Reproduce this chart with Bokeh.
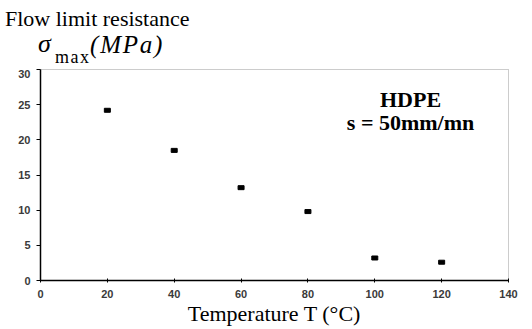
from bokeh.plotting import figure
from bokeh.layouts import column
from bokeh.models import Label, Range1d, FixedTicker, Div
from bokeh.embed import file_html
from bokeh.resources import INLINE

temperature = [20, 40, 60, 80, 100, 120]
sigma_max = [24.2, 18.5, 13.2, 9.8, 3.2, 2.6]
x_ticks = [0, 20, 40, 60, 80, 100, 120, 140]
y_ticks = [0, 5, 10, 15, 20, 25, 30]
title_text = "Flow limit resistance"
quantity_symbol = "σ"
quantity_sub = "max"
quantity_unit = "(MPa)"

# --- header (y-quantity title) as real HTML text ---
span = ("position:absolute; white-space:nowrap; line-height:1; "
        "font-family:'Liberation Serif'; color:#000000;")
header_html = (
    '<div style="position:relative; width:532px; height:69px; margin:0; padding:0;">'
    f'<span style="{span} left:5px; top:7.6px; font-size:22px;">{title_text}</span>'
    f'<span style="{span} left:38px; top:31.2px; font-size:26px; font-style:italic;">{quantity_symbol}</span>'
    f'<span style="{span} left:55px; top:48px; font-size:18px; letter-spacing:1.5px;">{quantity_sub}</span>'
    f'<span style="{span} left:90px; top:32.1px; font-size:25px; font-style:italic; letter-spacing:1.8px;">{quantity_unit}</span>'
    '</div>'
)
h = Div(text=header_html, width=532, height=69, margin=0)

# --- main chart ---
p = figure(width=532, height=260, output_backend="svg", toolbar_location=None,
           x_range=Range1d(0, 140), y_range=Range1d(0, 30),
           min_border_left=40, min_border_right=24, min_border_top=0, min_border_bottom=49)
p.background_fill_color = "white"
p.border_fill_color = "white"
p.grid.visible = False
p.outline_line_color = "#999999"
p.outline_line_dash = "1 1"
p.outline_line_width = 1

p.rect(x=temperature, y=sigma_max, width=6, height=4, width_units="screen",
       height_units="screen", fill_color="black", line_color="black")

for ax in (p.xaxis[0], p.yaxis[0]):
    ax.axis_line_color = "black"
    ax.axis_line_width = 1.5
    ax.major_tick_line_color = "black"
    ax.minor_tick_line_color = None
    ax.major_label_text_font = "Liberation Sans"
    ax.major_label_text_font_style = "bold"
    ax.major_label_text_font_size = "11px"
    ax.major_label_text_color = "#3a3a3a"

p.xaxis.ticker = FixedTicker(ticks=x_ticks)
p.yaxis.ticker = FixedTicker(ticks=y_ticks)
p.xaxis.major_tick_in = 2
p.xaxis.major_tick_out = 2
p.yaxis.major_tick_in = 0
p.yaxis.major_tick_out = 4
p.xaxis.major_label_standoff = 7
p.yaxis.major_label_standoff = 6
p.xaxis.axis_label = "Temperature T (°C)"
p.xaxis.axis_label_text_font = "Liberation Serif"
p.xaxis.axis_label_text_font_style = "normal"
p.xaxis.axis_label_text_font_size = "22px"
p.xaxis.axis_label_standoff = 0
p.xaxis.axis_label_text_color = "#000000"

def lab(x, y, t, size, style="normal", align="center"):
    p.add_layout(Label(x=x, y=y, text=t, text_font="Liberation Serif",
                       text_font_size=size, text_font_style=style,
                       text_align=align, text_baseline="alphabetic",
                       text_color="#000000"))

lab(110.7, 25.8, "HDPE", "22px", "bold")
lab(110.7, 22.5, "s = 50mm/mn", "22px", "bold")

layout = column(h, p, spacing=0)
open("out.html", "w").write(file_html(layout, INLINE))
